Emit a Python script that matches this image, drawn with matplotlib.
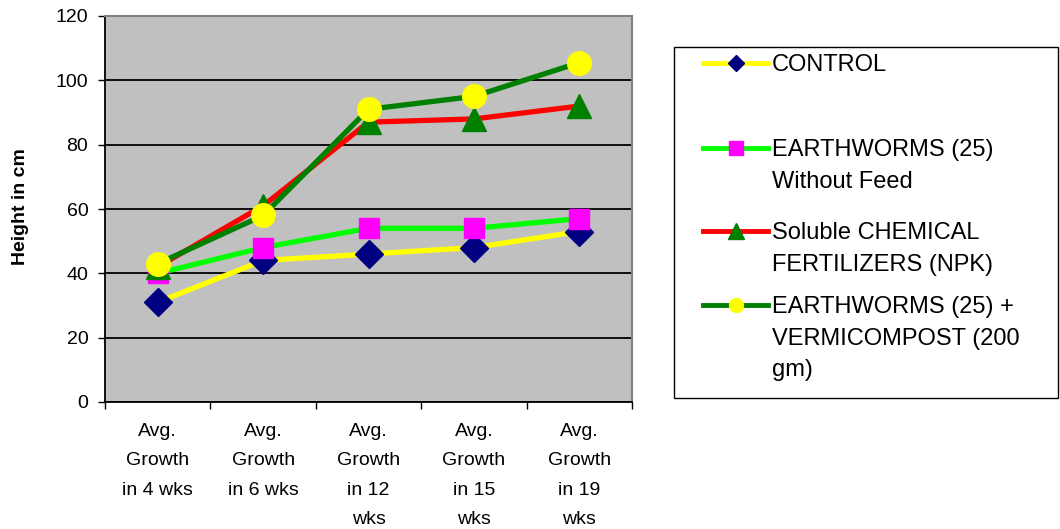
import matplotlib.pyplot as plt
from matplotlib.lines import Line2D
from matplotlib.patches import Rectangle

plt.rcParams['font.family'] = ['Liberation Sans', 'DejaVu Sans']

categorias = ["Avg.\nGrowth\nin 4 wks", "Avg.\nGrowth\nin 6 wks",
              "Avg.\nGrowth\nin 12\nwks", "Avg.\nGrowth\nin 15\nwks",
              "Avg.\nGrowth\nin 19\nwks"]
control = [31, 44, 46, 48, 53]
lombrices = [40, 48, 54, 54, 57]
npk = [42, 61, 87, 88, 92]
vermi = [43, 58, 91, 95, 105.5]

series = [
    ("CONTROL", control, "#FFFF00", "D", "#000080", 14, 8),
    ("EARTHWORMS (25)\nWithout Feed", lombrices, "#00FF00", "s", "#FF00FF", 15, 10),
    ("Soluble CHEMICAL\nFERTILIZERS (NPK)", npk, "#FF0000", "^", "#008000", 17, 11),
    ("EARTHWORMS (25) +\nVERMICOMPOST (200\ngm)", vermi, "#008000", "o", "#FFFF00", 17, 10),
]

fig = plt.figure(figsize=(10.6, 5.29), dpi=100)
ax = fig.add_axes([105/1060, 1-402/529, (632-105)/1060, (402-16)/529])
ax.set_facecolor("#C0C0C0")

x = list(range(len(categorias)))
for nombre, vals, lc, mk, mc, ms, _ in series:
    ax.plot(x, vals, color=lc, lw=3.8, marker=mk, ms=ms,
            mfc=mc, mec=mc, zorder=3)

ax.set_xlim(-0.5, len(categorias) - 0.5)
ax.set_ylim(0, 120)
ax.set_yticks(range(0, 121, 20))
ax.tick_params(axis='y', labelsize=14, length=5, width=1, pad=7)
ax.set_xticks([i - 0.5 for i in range(len(categorias) + 1)])
ax.set_xticklabels([])
ax.tick_params(axis='x', which='major', length=5, width=1)
ax.set_xticks(x, minor=True)
ax.set_xticklabels(categorias, minor=True, fontsize=14, linespacing=1.95)
ax.tick_params(axis='x', which='minor', length=0, pad=15)
ax.grid(axis='y', color='black', lw=1.3)
ax.set_axisbelow(True)
for s in ['top', 'right']:
    ax.spines[s].set_color('#808080')
    ax.spines[s].set_linewidth(1.5)
for s in ['left', 'bottom']:
    ax.spines[s].set_color('black')
    ax.spines[s].set_linewidth(1.3)

fig.text(21/1060, 1-207/529, "Height in cm", rotation=90, fontsize=14,
         fontweight='bold', ha='center', va='center')

# leyenda hecha a mano
W, H = 1060, 529
fig.patches.append(Rectangle((674/W, 1-398/H), (1058-674)/W, (398-47)/H,
                             transform=fig.transFigure, fill=True,
                             facecolor='white', edgecolor='black', lw=1))
filas = [63, 148, 231, 305]
for (nombre, vals, lc, mk, mc, ms, lms), yp in zip(series, filas):
    yf = 1 - yp/H
    fig.add_artist(Line2D([703/W, 768/W], [yf, yf], color=lc, lw=3.5,
                          transform=fig.transFigure))
    fig.add_artist(Line2D([735.5/W], [yf], marker=mk, ms=lms, mfc=mc,
                          mec=mc, transform=fig.transFigure))
    fig.text(772/W, 1-(yp-9)/H, nombre, fontsize=17, ha='left', va='top',
             linespacing=1.57)

fig.savefig("out.png", dpi=100)
